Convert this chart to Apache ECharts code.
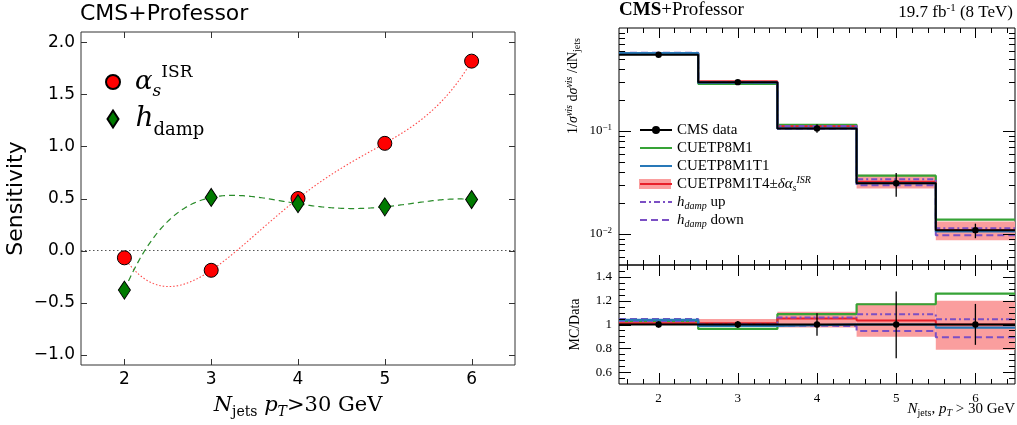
<!DOCTYPE html>
<html><head><meta charset="utf-8">
<script src="https://cdn.jsdelivr.net/npm/echarts@6/dist/echarts.min.js"></script>
<style>html,body{margin:0;padding:0;background:#fff}#c{width:1017px;height:425px}</style>
</head><body><div id="c"></div>
<script>
// ---------- Left panel data ----------
const njets = [2, 3, 4, 5, 6];
const alphaISR = [-0.07, -0.19, 0.50, 1.03, 1.82];
const hdampSens = [-0.38, 0.51, 0.45, 0.42, 0.49];
const sensTicks = [-1.0, -0.5, 0.0, 0.5, 1.0, 1.5, 2.0];
const njetsTicks = [2, 3, 4, 5, 6];

// ---------- Right panel data ----------
const binEdges = [1.5, 2.5, 3.5, 4.5, 5.5, 6.5];
const binCenters = [2, 3, 4, 5, 6];
const cmsData   = [0.55, 0.298, 0.106, 0.0311, 0.0109];
const cmsDataLo = [0.542, 0.289, 0.096, 0.023, 0.0091];
const cmsDataHi = [0.558, 0.307, 0.116, 0.039, 0.0126];
const cuetp8m1   = [0.565, 0.287, 0.115, 0.0368, 0.0138];
const cuetp8m1t1 = [0.572, 0.294, 0.106, 0.0311, 0.0106];
const cuetp8m1t4 = [0.558, 0.302, 0.111, 0.0321, 0.0109];
const t4Lo = [0.548, 0.297, 0.103, 0.0276, 0.0087];
const t4Hi = [0.567, 0.312, 0.117, 0.0376, 0.0132];
const hdampUp   = [0.566, 0.298, 0.112, 0.0340, 0.0114];
const hdampDown = [0.576, 0.295, 0.105, 0.0298, 0.0097];

const ratioData   = [1, 1, 1, 1, 1];
const ratioDataLo = [0.975, 0.97, 0.905, 0.717, 0.829];
const ratioDataHi = [1.025, 1.03, 1.095, 1.277, 1.173];
const ratioM1 = [1.028, 0.963, 1.087, 1.17, 1.26];
const ratioT1 = [1.039, 0.988, 1.0, 1.0, 0.974];
const ratioT4 = [1.011, 1.013, 1.05, 1.033, 1.0];
const ratioT4Lo = [0.995, 0.997, 0.974, 0.898, 0.787];
const ratioT4Hi = [1.03, 1.047, 1.108, 1.179, 1.2];
const ratioUp   = [1.03, 1.0, 1.058, 1.087, 1.044];
const ratioDown = [1.047, 0.99, 0.988, 0.946, 0.893];

const logMajorTicks = [0.01, 0.1];
const ratioMajorTicks = [0.6, 0.8, 1.0, 1.2, 1.4];

// minor tick positions (axis decoration)
const xMinorTicks = [];
for (let k = 8; k <= 32; k++) { const v = k / 5; if (Math.abs(v - Math.round(v)) > 1e-6) xMinorTicks.push(+v.toFixed(2)); }
const logMinorTicks = [];
[-3, -2, -1].forEach(e => { for (let m = 2; m <= 9; m++) { const v = m * Math.pow(10, e); if (v > 0.0051 && v < 0.99) logMinorTicks.push(v); } });
const ratioMinorTicks = [];
for (let k = 11; k <= 29; k++) { const v = k / 20; if (Math.abs(v * 5 - Math.round(v * 5)) > 1e-6) ratioMinorTicks.push(+v.toFixed(2)); }

// ---------- helpers ----------
const SERIF = 'Liberation Serif';
const GREEN = '#36a336', BLUE = '#2878b8', RED = '#e8202a', PURPLE = '#7b4fc4', BAND = '#fa9e9e';

function stepData(vals) {
  return binEdges.map((e, i) => [e, vals[Math.min(i, vals.length - 1)]]);
}
function stepSeries(name, idx, vals, color, width, type, z, extra) {
  return Object.assign({
    name: name, type: 'line', xAxisIndex: idx, yAxisIndex: idx, step: 'end',
    data: stepData(vals), symbol: 'none', z: z, animation: false, silent: true,
    lineStyle: { color: color, width: width, type: type || 'solid' },
    itemStyle: { color: color }
  }, extra || {});
}
function bandSeries(idx, lo, hi) {
  return {
    type: 'custom', xAxisIndex: idx, yAxisIndex: idx, z: 2, silent: true, animation: false,
    data: lo.map((l, i) => [binEdges[i], binEdges[i + 1], l, hi[i]]),
    encode: { x: [0, 1], y: [2, 3] },
    renderItem: function (params, api) {
      const p1 = api.coord([api.value(0), api.value(3)]);
      const p2 = api.coord([api.value(1), api.value(2)]);
      return { type: 'rect', shape: { x: p1[0], y: p1[1], width: p2[0] - p1[0], height: p2[1] - p1[1] },
        style: { fill: BAND } };
    }
  };
}
function pointsSeries(idx, vals, lo, hi) {
  return {
    type: 'custom', xAxisIndex: idx, yAxisIndex: idx, z: 12, silent: true, animation: false,
    data: vals.map((v, i) => [binCenters[i], v, lo[i], hi[i]]),
    encode: { x: 0, y: [1, 2, 3] },
    renderItem: function (params, api) {
      const p = api.coord([api.value(0), api.value(1)]);
      const a = api.coord([api.value(0), api.value(3)]);
      const b = api.coord([api.value(0), api.value(2)]);
      return { type: 'group', children: [
        { type: 'line', shape: { x1: a[0], y1: a[1], x2: b[0], y2: b[1] }, style: { stroke: '#000', lineWidth: 1.3 } },
        { type: 'circle', shape: { cx: p[0], cy: p[1], r: 3.2 }, style: { fill: '#000' } }
      ] };
    }
  };
}
// smooth interpolating curve through the measured points (drawn through the axis scale)
function curveSeries(xs, ys, color, dash, width) {
  return {
    type: 'custom', xAxisIndex: 0, yAxisIndex: 0, z: 3, silent: true, animation: false,
    data: xs.map((x, i) => [x, ys[i]]),
    renderItem: function (params, api) {
      if (params.dataIndex !== 0) return null;
      const n = xs.length, pts = [];
      for (let k = 0; k <= 240; k++) {
        const x = xs[0] + (xs[n - 1] - xs[0]) * k / 240;
        let y = 0;
        for (let i = 0; i < n; i++) {
          let L = 1;
          for (let j = 0; j < n; j++) if (j !== i) L *= (x - xs[j]) / (xs[i] - xs[j]);
          y += ys[i] * L;
        }
        pts.push(api.coord([x, y]));
      }
      return { type: 'polyline', shape: { points: pts },
        style: { stroke: color, lineWidth: width, lineDash: dash, fill: null } };
    }
  };
}
function frameTicks(idx, spec) {
  return {
    type: 'custom', xAxisIndex: idx, yAxisIndex: idx, silent: true, animation: false, z: 20,
    data: [[spec.xRef, spec.yRef]],
    renderItem: function (params, api) {
      const cs = params.coordSys;
      const L = cs.x, R = cs.x + cs.width, T = cs.y, B = cs.y + cs.height;
      const st = { stroke: spec.color || '#000', lineWidth: 1 };
      const ch = [];
      const addX = (v, len) => {
        const px = Math.round(api.coord([v, spec.yRef])[0]) + 0.5;
        ch.push({ type: 'line', shape: { x1: px, y1: B, x2: px, y2: B - len }, style: st });
        ch.push({ type: 'line', shape: { x1: px, y1: T, x2: px, y2: T + len }, style: st });
      };
      const addY = (v, len) => {
        const py = Math.round(api.coord([spec.xRef, v])[1]) + 0.5;
        ch.push({ type: 'line', shape: { x1: L, y1: py, x2: L + len, y2: py }, style: st });
        ch.push({ type: 'line', shape: { x1: R, y1: py, x2: R - len, y2: py }, style: st });
      };
      (spec.xMajor || []).forEach(v => addX(v, spec.xMajLen));
      (spec.xMinor || []).forEach(v => addX(v, spec.xMinLen));
      (spec.yMajor || []).forEach(v => addY(v, spec.yMajLen));
      (spec.yMinor || []).forEach(v => addY(v, spec.yMinLen));
      return { type: 'group', children: ch };
    }
  };
}
const noAxisBits = { axisLine: { show: false }, axisTick: { show: false }, splitLine: { show: false } };

// ---------- chart ----------
const chart = echarts.init(document.getElementById('c'), null, { renderer: 'canvas' });

const leftRich = {
  sp: { width: 10 },
  a: { fontFamily: 'DejaVu Serif', fontStyle: 'italic', fontSize: 26, lineHeight: 36, color: '#000' },
  s: { fontFamily: 'DejaVu Serif', fontStyle: 'italic', fontSize: 17, lineHeight: 17, verticalAlign: 'bottom', color: '#000' },
  sup: { fontFamily: 'DejaVu Serif', fontSize: 17, lineHeight: 17, verticalAlign: 'top', color: '#000' },
  sp2: { width: 12 },
  h: { fontFamily: 'DejaVu Serif', fontStyle: 'italic', fontSize: 28, lineHeight: 40, color: '#000' },
  d: { fontFamily: 'DejaVu Serif', fontSize: 18, lineHeight: 15, verticalAlign: 'bottom', color: '#000' }
};
const rLeg = {
  i: { fontFamily: SERIF, fontStyle: 'italic', fontSize: 15, lineHeight: 18, color: '#000' },
  sub: { fontFamily: SERIF, fontStyle: 'italic', fontSize: 10, lineHeight: 9, verticalAlign: 'bottom', color: '#000' },
  sup: { fontFamily: SERIF, fontStyle: 'italic', fontSize: 10, lineHeight: 9, verticalAlign: 'top', color: '#000' }
};
const rightLegendNames = {
  'CMS data': 'CMS data',
  'CUETP8M1': 'CUETP8M1',
  'CUETP8M1T1': 'CUETP8M1T1',
  'CUETP8M1T4': 'CUETP8M1T4±{i|δα}{sub|s}{sup|ISR}',
  'hdamp up': '{i|h}{sub|damp} up',
  'hdamp down': '{i|h}{sub|damp} down'
};
const hideSym = { itemStyle: { opacity: 0 } };

const option = {
  animation: false,
  backgroundColor: '#fff',
  textStyle: { fontFamily: 'DejaVu Sans' },
  title: [
    { text: 'CMS+Professor', left: 80, top: 3, padding: 0,
      textStyle: { fontFamily: 'DejaVu Sans', fontSize: 22, fontWeight: 'normal', color: '#000' } },
    { text: '{b|CMS}+Professor', left: 619, top: 1, padding: 0,
      textStyle: { fontFamily: SERIF, fontSize: 19, fontWeight: 'normal', color: '#000',
        rich: { b: { fontFamily: SERIF, fontSize: 19, fontWeight: 'bold', color: '#000' } } } },
    { text: '19.7 fb{s|-1} (8 TeV)', right: 4, top: 3, padding: 0,
      textStyle: { fontFamily: SERIF, fontSize: 17, fontWeight: 'normal', color: '#000', lineHeight: 20,
        rich: { s: { fontFamily: SERIF, fontSize: 11, lineHeight: 11, verticalAlign: 'top', color: '#000' } } } }
  ],
  grid: [
    { left: 81, top: 32, width: 434, height: 333, show: true, borderColor: '#333', borderWidth: 1, backgroundColor: 'transparent' },
    { left: 619, top: 28, width: 396, height: 237, show: true, borderColor: '#000', borderWidth: 1, backgroundColor: 'transparent' },
    { left: 619, top: 265, width: 396, height: 119, show: true, borderColor: '#000', borderWidth: 1, backgroundColor: 'transparent' }
  ],
  xAxis: [
    Object.assign({ type: 'value', gridIndex: 0, min: 1.5, max: 6.5,
      axisLabel: { fontSize: 17, color: '#000', margin: 6, showMinLabel: false, showMaxLabel: false,
        fontFamily: 'DejaVu Sans', formatter: v => (njetsTicks.indexOf(v) >= 0 ? String(v) : '') },
      name: '{i|N}{sub|jets} {i|p}{subi|T}{r|>30 GeV}', nameLocation: 'middle', nameGap: 25,
      nameTextStyle: { fontFamily: 'DejaVu Serif', fontSize: 21, color: '#000', lineHeight: 26,
        rich: {
          i: { fontFamily: 'DejaVu Serif', fontStyle: 'italic', fontSize: 21, lineHeight: 26, color: '#000' },
          sub: { fontFamily: 'DejaVu Serif', fontSize: 14, lineHeight: 12, verticalAlign: 'bottom', color: '#000' },
          subi: { fontFamily: 'DejaVu Serif', fontStyle: 'italic', fontSize: 14, lineHeight: 12, verticalAlign: 'bottom', color: '#000' },
          r: { fontFamily: 'DejaVu Serif', fontSize: 21, lineHeight: 26, color: '#000' }
        } } }, noAxisBits),
    Object.assign({ type: 'value', gridIndex: 1, min: 1.5, max: 6.5, axisLabel: { show: false } }, noAxisBits),
    Object.assign({ type: 'value', gridIndex: 2, min: 1.5, max: 6.5,
      axisLabel: { fontFamily: SERIF, fontSize: 13, color: '#000', margin: 8, showMinLabel: false, showMaxLabel: false,
        formatter: v => (binCenters.indexOf(v) >= 0 ? String(v) : '') } }, noAxisBits)
  ],
  yAxis: [
    Object.assign({ type: 'value', gridIndex: 0, min: -1.1, max: 2.1,
      axisLabel: { fontSize: 17, color: '#000', margin: 6, fontFamily: 'DejaVu Sans', showMinLabel: false, showMaxLabel: false,
        formatter: v => (sensTicks.some(t => Math.abs(t - v) < 1e-6) ? v.toFixed(1).replace('-', '\u2212') : '') },
      name: 'Sensitivity', nameLocation: 'middle', nameGap: 54,
      nameTextStyle: { fontFamily: 'DejaVu Sans', fontSize: 22, color: '#000' } }, noAxisBits),
    Object.assign({ type: 'log', gridIndex: 1, min: 0.005, max: 1, logBase: 10,
      axisLabel: { fontFamily: SERIF, fontSize: 13, color: '#000', margin: 7, showMinLabel: false, showMaxLabel: false,
        formatter: function (v) {
          const l = Math.log10(v), r = Math.round(l);
          if (Math.abs(l - r) > 0.01 || r === 0) return '';
          return '{b|10}{s|\u2212' + (-r) + '}';
        },
        rich: { b: { fontFamily: SERIF, fontSize: 13, lineHeight: 16, color: '#000' },
                s: { fontFamily: SERIF, fontSize: 9, lineHeight: 9, verticalAlign: 'top', color: '#000' } } } }, noAxisBits),
    Object.assign({ type: 'value', gridIndex: 2, min: 0.5, max: 1.5,
      axisLabel: { fontFamily: SERIF, fontSize: 13, color: '#000', margin: 7, showMinLabel: false, showMaxLabel: false,
        formatter: v => (ratioMajorTicks.some(t => Math.abs(t - v) < 1e-6) ? String(+v.toFixed(1)) : '') },
      name: 'MC/Data', nameLocation: 'middle', nameGap: 37,
      nameTextStyle: { fontFamily: SERIF, fontSize: 14, color: '#000' } }, noAxisBits)
  ],
  legend: [
    { data: ['alphaISR'], left: 105, top: 64, padding: 0, orient: 'vertical', itemWidth: 14, itemHeight: 14,
      selectedMode: false, formatter: () => '{sp|}{a|α}{s|s}{sup|ISR}', textStyle: { rich: leftRich } },
    { data: ['hdampSens'], left: 106.5, top: 105, padding: 0, orient: 'vertical', itemWidth: 11, itemHeight: 17,
      selectedMode: false, formatter: () => '{sp2|}{h|h}{d|damp}', textStyle: { rich: leftRich } },
    { data: [
        { name: 'CMS data', itemStyle: { color: '#000', opacity: 1 } },
        Object.assign({ name: 'CUETP8M1' }, hideSym),
        Object.assign({ name: 'CUETP8M1T1' }, hideSym),
        Object.assign({ name: 'CUETP8M1T4' }, hideSym),
        Object.assign({ name: 'hdamp up' }, hideSym),
        Object.assign({ name: 'hdamp down' }, hideSym)
      ],
      left: 639, top: 121, padding: 0, orient: 'vertical', itemWidth: 32, itemHeight: 10, itemGap: 0,
      lineStyle: { width: 2 },
      selectedMode: false, formatter: n => rightLegendNames[n],
      textStyle: { fontFamily: SERIF, fontSize: 15, lineHeight: 18, color: '#000', rich: rLeg } }
  ],
  graphic: [
    { type: 'rect', z: 1, silent: true, shape: { x: 639, y: 179, width: 32, height: 10 }, style: { fill: BAND } },
    { type: 'text', z: 5, silent: true, x: 573, y: 86, rotation: Math.PI / 2,
      style: { text: '1/{i|σ}{sup|vis} d{i|σ}{sup|vis} /dN{sub|jets}', align: 'center', verticalAlign: 'middle',
        fontFamily: SERIF, fontSize: 14, fill: '#000', lineHeight: 18,
        rich: {
          i: { fontFamily: SERIF, fontStyle: 'italic', fontSize: 14, lineHeight: 18, fill: '#000' },
          sup: { fontFamily: SERIF, fontStyle: 'italic', fontSize: 10, lineHeight: 9, verticalAlign: 'top', fill: '#000' },
          sub: { fontFamily: SERIF, fontSize: 10, lineHeight: 9, verticalAlign: 'bottom', fill: '#000' }
        } } },
    { type: 'text', z: 5, silent: true, x: 1015, y: 409,
      style: { text: '{i|N}{sub|jets}, {i|p}{subi|T} > 30 GeV', align: 'right', verticalAlign: 'middle',
        fontFamily: SERIF, fontSize: 15, fill: '#000', lineHeight: 18,
        rich: {
          i: { fontFamily: SERIF, fontStyle: 'italic', fontSize: 15, lineHeight: 18, fill: '#000' },
          sub: { fontFamily: SERIF, fontSize: 10, lineHeight: 9, verticalAlign: 'bottom', fill: '#000' },
          subi: { fontFamily: SERIF, fontStyle: 'italic', fontSize: 10, lineHeight: 9, verticalAlign: 'bottom', fill: '#000' }
        } } }
  ],
  series: [
    // ----- left panel -----
    curveSeries(njets, alphaISR, '#ff4a4a', [1.5, 2], 1.1),
    curveSeries(njets, hdampSens, '#2a8c2a', [6, 4], 1.2),
    { name: 'alphaISR', type: 'scatter', xAxisIndex: 0, yAxisIndex: 0, symbol: 'circle', symbolSize: 14, z: 5,
      data: njets.map((x, i) => [x, alphaISR[i]]),
      itemStyle: { color: '#ff0000', borderColor: '#000', borderWidth: 1, opacity: 1 },
      markLine: { silent: true, symbol: ['none', 'none'], label: { show: false }, z: 1,
        lineStyle: { color: '#555', width: 1, type: [1.5, 2.5] }, data: [{ yAxis: 0 }] } },
    { name: 'hdampSens', type: 'scatter', xAxisIndex: 0, yAxisIndex: 0, symbol: 'diamond', symbolSize: [12, 18], z: 6,
      data: njets.map((x, i) => [x, hdampSens[i]]),
      itemStyle: { color: '#007a00', borderColor: '#000', borderWidth: 1, opacity: 1 } },
    frameTicks(0, { xRef: 4, yRef: 0, color: '#333', xMajor: njetsTicks, xMajLen: 6, yMajor: sensTicks, yMajLen: 6 }),

    // ----- right top panel -----
    bandSeries(1, t4Lo, t4Hi),
    stepSeries('CUETP8M1', 1, cuetp8m1, GREEN, 2.2, 'solid', 3),
    stepSeries('CUETP8M1T4', 1, cuetp8m1t4, RED, 2, 'solid', 4),
    stepSeries('hdamp up', 1, hdampUp, PURPLE, 2, [6, 3, 2, 3], 5),
    stepSeries('hdamp down', 1, hdampDown, PURPLE, 2, [7, 4], 5),
    stepSeries('CUETP8M1T1', 1, cuetp8m1t1, BLUE, 2.2, 'solid', 6),
    stepSeries('CMS data', 1, cmsData, '#000', 2, 'solid', 7, { symbol: 'circle', symbolSize: 7, showSymbol: false }),
    pointsSeries(1, cmsData, cmsDataLo, cmsDataHi),
    frameTicks(1, { xRef: 4, yRef: 0.1, xMajor: binCenters, xMajLen: 10, xMinor: xMinorTicks, xMinLen: 5,
      yMajor: logMajorTicks, yMajLen: 12, yMinor: logMinorTicks, yMinLen: 6 }),

    // ----- ratio panel -----
    bandSeries(2, ratioT4Lo, ratioT4Hi),
    stepSeries('CUETP8M1', 2, ratioM1, GREEN, 2.2, 'solid', 3),
    stepSeries('CUETP8M1T4', 2, ratioT4, RED, 2, 'solid', 4),
    stepSeries('hdamp up', 2, ratioUp, PURPLE, 2, [6, 3, 2, 3], 5),
    stepSeries('hdamp down', 2, ratioDown, PURPLE, 2, [7, 4], 5),
    stepSeries('CUETP8M1T1', 2, ratioT1, BLUE, 2.2, 'solid', 6),
    stepSeries('CMS data', 2, ratioData, '#000', 2, 'solid', 7, { symbol: 'circle', symbolSize: 7, showSymbol: false }),
    pointsSeries(2, ratioData, ratioDataLo, ratioDataHi),
    frameTicks(2, { xRef: 4, yRef: 1, xMajor: binCenters, xMajLen: 11, xMinor: xMinorTicks, xMinLen: 5,
      yMajor: ratioMajorTicks, yMajLen: 12, yMinor: ratioMinorTicks, yMinLen: 6 })
  ]
};
chart.setOption(option);
</script>
</body></html>
